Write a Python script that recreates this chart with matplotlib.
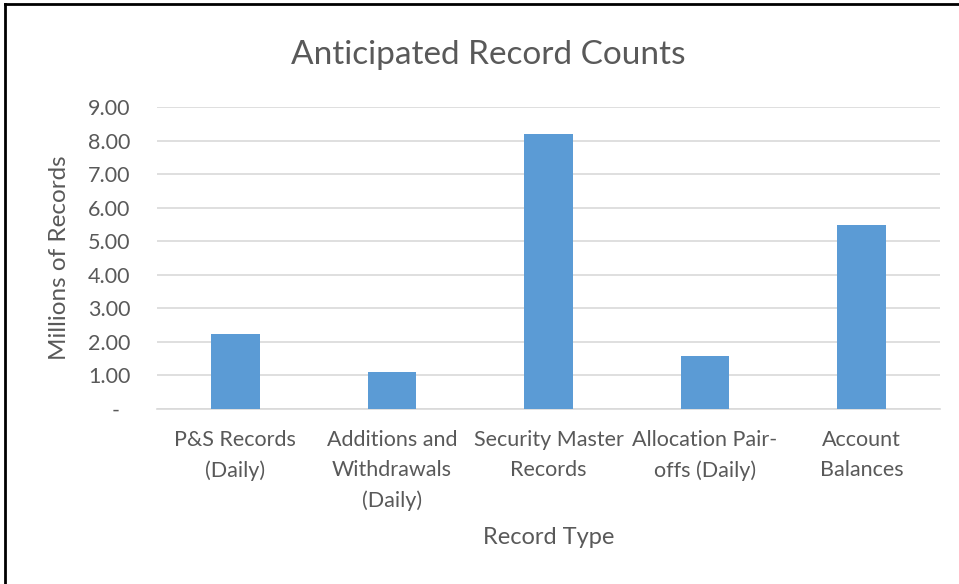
import matplotlib.pyplot as plt
from matplotlib.lines import Line2D
from matplotlib.ticker import FuncFormatter

plt.rcParams["font.family"] = ["Lato", "DejaVu Sans"]

record_types = [
    "P&S Records\n(Daily)",
    "Additions and\nWithdrawals\n(Daily)",
    "Security Master\nRecords",
    "Allocation Pair-\noffs (Daily)",
    "Account\nBalances",
]
millions = [2.23, 1.11, 8.21, 1.58, 5.49]
y_ticks = [0, 1, 2, 3, 4, 5, 6, 7, 8, 9]

text_grey = "#595959"
bar_blue = "#5b9bd5"
grid_grey = "#d9d9d9"

fig = plt.figure(figsize=(9.59, 5.84), dpi=100)
ax = fig.add_axes([0.1637, 0.2997, 0.8165, 0.517])

x = range(len(record_types))
ax.bar(x, millions, width=0.31, color=bar_blue, zorder=3)

ax.set_xlim(-0.5, len(record_types) - 0.5)
ax.set_ylim(0, 9)
ax.set_yticks(y_ticks)
# excel accounting style: zero shown as a dash
ax.yaxis.set_major_formatter(
    FuncFormatter(lambda v, p: "-  " if v == 0 else f"{v:.2f}")
)
ax.set_xticks(list(x))
ax.set_xticklabels(record_types, linespacing=1.62)

ax.grid(axis="y", color=grid_grey, linewidth=1.2, zorder=0)
for side in ["top", "right", "left"]:
    ax.spines[side].set_visible(False)
ax.spines["bottom"].set_color(grid_grey)
ax.spines["bottom"].set_linewidth(1.2)
ax.tick_params(axis="both", length=0, labelcolor=text_grey, labelsize=15.5)
ax.tick_params(axis="y", pad=19)
ax.tick_params(axis="x", pad=15)

ax.set_ylabel("Millions of Records", fontsize=17.5, color=text_grey, va="center")
ax.yaxis.set_label_coords(-0.124, 0.5)
ax.set_xlabel("Record Type", fontsize=17, color=text_grey, va="center")
ax.xaxis.set_label_coords(0.5, -0.427)

fig.text(488 / 959, 1 - 55 / 584, "Anticipated Record Counts", ha="center",
         va="center", fontsize=24, color=text_grey)

# frame around the screenshot (only top and left visible)
fig.add_artist(Line2D([5 / 959, 5 / 959], [0, 1 - 4 / 584], color="black",
                      linewidth=2, transform=fig.transFigure))
fig.add_artist(Line2D([5 / 959, 1], [1 - 4 / 584, 1 - 4 / 584], color="black",
                      linewidth=2, transform=fig.transFigure))

fig.savefig("out.png", dpi=100)
